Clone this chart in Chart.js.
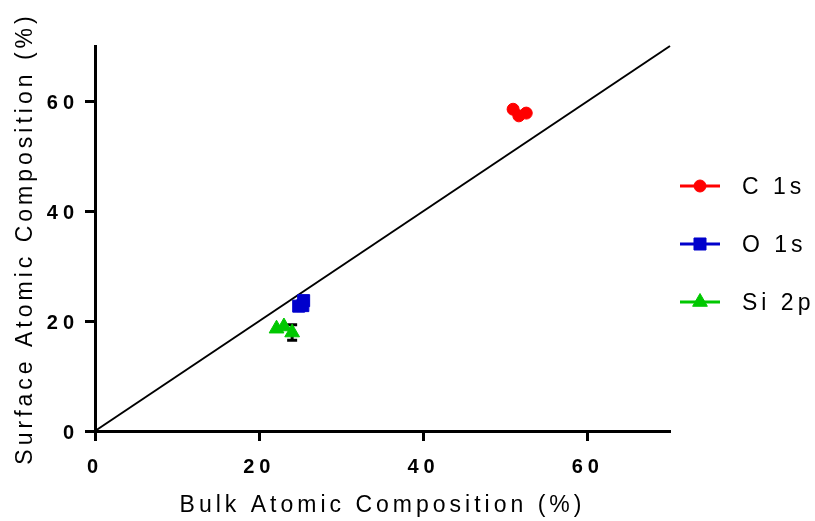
<!DOCTYPE html>
<html>
<head>
<meta charset="utf-8">
<title>Surface vs Bulk Atomic Composition</title>
<script src="https://cdn.jsdelivr.net/npm/chart.js@4.4.1/dist/chart.umd.min.js"></script>
<style>
    html, body { margin: 0; padding: 0; background: #fff; }
    #wrap { width: 815px; height: 521px; }
</style>
</head>
<body>
<div id="wrap"><canvas id="chart" width="815" height="521"></canvas></div>
<script>
// Data (bulk % on x, surface % on y)
const seriesNames = ["C 1s", "O 1s", "Si 2p"];
const c1sBulk = [50.9, 51.6, 52.5];
const c1sSurface = [58.5, 57.3, 57.8];
const o1sBulk = [24.8, 25.3, 25.4];
const o1sSurface = [22.7, 22.8, 23.7];
const si2pBulk = [22.1, 23.0, 24.0];
const si2pSurface = [18.6, 19.0, 17.9];
const si2pError = [0, 0, 1.4];
const identityLine = [0, 70];
const xTicks = [0, 20, 40, 60];
const yTicks = [0, 20, 40, 60];
const axisMax = 70;

const FONT = "'Liberation Sans', Arial, sans-serif";
Chart.defaults.font.family = FONT;
Chart.defaults.color = "#000";

function points(xs, ys) {
    return xs.map((x, i) => ({ x: x, y: ys[i] }));
}

// Error bars (drawn under the markers), axis titles and the side legend
const decorations = {
    id: "decorations",
    beforeDraw(chart) {
        chart.ctx.letterSpacing = "5px"; // wide bold tick labels
    },
    beforeDatasetsDraw(chart) {
        const ctx = chart.ctx;
        const xs = chart.scales.x, ys = chart.scales.y;
        ctx.save();
        ctx.strokeStyle = "#000";
        ctx.lineWidth = 3;
        si2pBulk.forEach((b, i) => {
            const err = si2pError[i];
            if (!err) return;
            const px = xs.getPixelForValue(b);
            const top = ys.getPixelForValue(si2pSurface[i] + err);
            const bot = ys.getPixelForValue(si2pSurface[i] - err);
            ctx.beginPath();
            ctx.moveTo(px, top); ctx.lineTo(px, bot);
            ctx.moveTo(px - 5, top); ctx.lineTo(px + 5, top);
            ctx.moveTo(px - 5, bot); ctx.lineTo(px + 5, bot);
            ctx.stroke();
        });
        ctx.restore();
    },
    afterDraw(chart) {
        const ctx = chart.ctx;
        const area = chart.chartArea;
        ctx.save();
        ctx.letterSpacing = "4px";
        ctx.fillStyle = "#000";
        ctx.font = "23px " + FONT;
        ctx.textBaseline = "middle";

        // axis titles
        ctx.textAlign = "center";
        ctx.fillText("Bulk Atomic Composition (%)", (area.left + area.right) / 2, 506);
        ctx.save();
        ctx.translate(26, (area.top + area.bottom) / 2);
        ctx.rotate(-Math.PI / 2);
        ctx.fillText("Surface Atomic Composition (%)", 0, 0);
        ctx.restore();

        // legend: line with marker, then label
        ctx.textAlign = "left";
        chart.data.datasets.slice(0, seriesNames.length).forEach((ds, i) => {
            const y = 186 + i * 58;
            ctx.strokeStyle = ds.borderColor;
            ctx.fillStyle = ds.backgroundColor;
            ctx.lineWidth = 3;
            ctx.beginPath();
            ctx.moveTo(680, y);
            ctx.lineTo(720, y);
            ctx.stroke();
            ctx.lineWidth = 1;
            Chart.helpers.drawPoint(ctx, {
                pointStyle: ds.pointStyle,
                radius: ds.pointRadius,
                rotation: 0,
                borderWidth: 1
            }, 700, y);
            ctx.fillStyle = "#000";
            ctx.fillText(ds.label, 742, y + 2);
        });
        ctx.restore();
    }
};

const colors = ["#ff0000", "#0000cc", "#00c800"];

new Chart(document.getElementById("chart"), {
    type: "scatter",
    data: {
        datasets: [
            {
                label: seriesNames[0],
                data: points(c1sBulk, c1sSurface),
                pointStyle: "circle",
                pointRadius: 6,
                backgroundColor: colors[0],
                borderColor: colors[0],
                borderWidth: 1
            },
            {
                label: seriesNames[1],
                data: points(o1sBulk, o1sSurface),
                pointStyle: "rect",
                pointRadius: 8.5,
                backgroundColor: colors[1],
                borderColor: colors[1],
                borderWidth: 1
            },
            {
                label: seriesNames[2],
                data: points(si2pBulk, si2pSurface),
                pointStyle: "triangle",
                pointRadius: 8.5,
                backgroundColor: colors[2],
                borderColor: colors[2],
                borderWidth: 1
            },
            {
                // y = x reference line, drawn first (last in list)
                label: "identity",
                data: points(identityLine, identityLine),
                showLine: true,
                pointRadius: 0,
                borderColor: "#000",
                borderWidth: 2,
                clip: false
            }
        ]
    },
    options: {
        responsive: false,
        animation: false,
        layout: { padding: { left: 0, right: 145, top: 46, bottom: 0 } },
        plugins: {
            legend: { display: false },
            tooltip: { enabled: false }
        },
        scales: {
            x: {
                type: "linear",
                min: 0,
                max: axisMax,
                afterBuildTicks: s => { s.ticks = xTicks.map(v => ({ value: v })); },
                afterFit: s => { s.height = 90; },
                ticks: { color: "#000", font: { size: 20, weight: "bold" }, padding: 14 },
                grid: { drawOnChartArea: false, tickLength: 10, tickWidth: 3, tickColor: "#000" },
                border: { display: true, width: 3, color: "#000" }
            },
            y: {
                type: "linear",
                min: 0,
                max: axisMax,
                afterBuildTicks: s => { s.ticks = yTicks.map(v => ({ value: v })); },
                afterFit: s => { s.width = 95; },
                ticks: { color: "#000", font: { size: 20, weight: "bold" }, padding: 6, labelOffset: 2 },
                grid: { drawOnChartArea: false, tickLength: 10, tickWidth: 3, tickColor: "#000" },
                border: { display: true, width: 3, color: "#000" }
            }
        }
    },
    plugins: [decorations]
});
</script>
</body>
</html>
